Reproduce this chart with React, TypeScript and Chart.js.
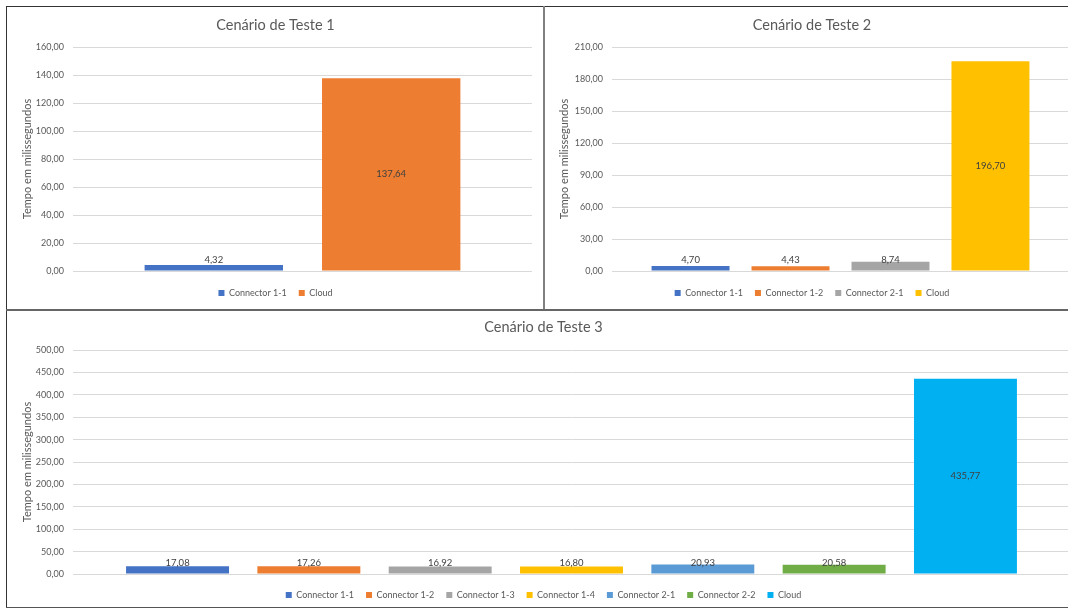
import React, { useEffect, useRef } from "react";
import { Chart, registerables } from "chart.js";

Chart.register(...registerables);

const FONT = "Lato, 'Open Sans', sans-serif";
const TEXT = "#595959";
const AXIS_TITLE = "Tempo em milissegundos";

// ---- Data ----
const chart1Title = "Cenário de Teste 1";
const chart1Series = ["Connector 1-1", "Cloud"];
const chart1Values = [4.32, 137.64];
const chart1Colors = ["#4472C4", "#ED7D31"];
const chart1YMax = 160;
const chart1YStep = 20;

const chart2Title = "Cenário de Teste 2";
const chart2Series = ["Connector 1-1", "Connector 1-2", "Connector 2-1", "Cloud"];
const chart2Values = [4.7, 4.43, 8.74, 196.7];
const chart2Colors = ["#4472C4", "#ED7D31", "#A5A5A5", "#FFC000"];
const chart2YMax = 210;
const chart2YStep = 30;

const chart3Title = "Cenário de Teste 3";
const chart3Series = [
  "Connector 1-1",
  "Connector 1-2",
  "Connector 1-3",
  "Connector 1-4",
  "Connector 2-1",
  "Connector 2-2",
  "Cloud",
];
const chart3Values = [17.08, 17.26, 16.92, 16.8, 20.93, 20.58, 435.77];
const chart3Colors = ["#4472C4", "#ED7D31", "#A5A5A5", "#FFC000", "#5B9BD5", "#70AD47", "#00B0F0"];
const chart3YMax = 500;
const chart3YStep = 50;

const fmt = (v: number) => Number(v).toFixed(2).replace(".", ",");

const valueLabels = {
  id: "valueLabels",
  afterDatasetsDraw(chart: any) {
    const ctx = chart.ctx;
    ctx.save();
    ctx.font = `9.5px ${FONT}`;
    ctx.fillStyle = "#404040";
    ctx.textAlign = "center";
    ctx.textBaseline = "middle";
    chart.data.datasets.forEach((ds: any, i: number) => {
      const meta = chart.getDatasetMeta(i);
      meta.data.forEach((el: any, j: number) => {
        const v = ds.data[j];
        if (v == null) return;
        const { x, y, base } = el.getProps(["x", "y", "base"], true);
        const cy = Math.min((y + base) / 2, base - 10.5);
        ctx.fillText(fmt(v), x, cy);
      });
    });
    ctx.restore();
  },
};

type Spec = {
  title: string;
  series: string[];
  values: number[];
  colors: string[];
  max: number;
  step: number;
  cat: number;
  bar: number;
  pL: number;
  pR: number;
  pB: number;
  t1: number;
  t2: number;
  legendPad: number;
  xH: number;
  yW: number;
  yPad: number;
};

function makeConfig(s: Spec): any {
  return {
    type: "bar",
    data: {
      labels: [""],
      datasets: s.series.map((name, i) => ({
        label: name,
        data: [s.values[i]],
        backgroundColor: s.colors[i],
        borderWidth: 0,
        categoryPercentage: s.cat,
        barPercentage: s.bar,
      })),
    },
    options: {
      responsive: false,
      animation: false,
      layout: { padding: { left: s.pL, right: s.pR, top: 0, bottom: s.pB } },
      plugins: {
        title: {
          display: true,
          text: s.title,
          color: TEXT,
          font: { family: FONT, size: 14.5, weight: "normal", lineHeight: 1.2 },
          padding: { top: s.t1, bottom: s.t2 },
        },
        legend: {
          position: "bottom",
          labels: {
            boxWidth: 6,
            boxHeight: 6,
            padding: s.legendPad,
            color: TEXT,
            font: { family: FONT, size: 9 },
          },
        },
        tooltip: { enabled: false },
      },
      scales: {
        x: {
          display: true,
          ticks: { display: false },
          grid: { display: false },
          border: { display: false },
          afterFit: (sc: any) => {
            sc.height = s.xH;
          },
        },
        y: {
          min: 0,
          max: s.max,
          ticks: {
            stepSize: s.step,
            padding: 9,
            color: TEXT,
            font: { family: FONT, size: 9 },
            callback: (v: any) => fmt(v),
          },
          grid: { color: "#D9D9D9", drawTicks: false },
          border: { display: false },
          title: {
            display: true,
            text: AXIS_TITLE,
            color: TEXT,
            font: { family: FONT, size: 11, lineHeight: 1.2 },
            padding: { top: s.yPad, bottom: 0 },
          },
          afterFit: (sc: any) => {
            sc.width = s.yW;
          },
        },
      },
    },
    plugins: [valueLabels],
  };
}

function ChartBox(props: { spec: Spec; left: number; top: number; width: number; height: number }) {
  const ref = useRef<HTMLCanvasElement | null>(null);
  useEffect(() => {
    if (!ref.current) return;
    const c = new Chart(ref.current, makeConfig(props.spec));
    return () => c.destroy();
  }, []);
  return (
    <canvas
      ref={ref}
      width={props.width}
      height={props.height}
      style={{
        position: "absolute",
        left: props.left,
        top: props.top,
        width: props.width,
        height: props.height,
      }}
    />
  );
}

const spec1: Spec = {
  title: chart1Title,
  series: chart1Series,
  values: chart1Values,
  colors: chart1Colors,
  max: chart1YMax,
  step: chart1YStep,
  cat: 0.773,
  bar: 0.78,
  pL: 12,
  pR: 11,
  pB: 1.5,
  t1: 9.3,
  t2: 13.3,
  legendPad: 12,
  xH: 5.5,
  yW: 54,
  yPad: 1.5,
};

const spec2: Spec = {
  title: chart2Title,
  series: chart2Series,
  values: chart2Values,
  colors: chart2Colors,
  max: chart2YMax,
  step: chart2YStep,
  cat: 0.875,
  bar: 0.78,
  pL: 10,
  pR: 11,
  pB: 1.5,
  t1: 9.3,
  t2: 13.3,
  legendPad: 12,
  xH: 5.5,
  yW: 57,
  yPad: 3,
};

const spec3: Spec = {
  title: chart3Title,
  series: chart3Series,
  values: chart3Values,
  colors: chart3Colors,
  max: chart3YMax,
  step: chart3YStep,
  cat: 0.922,
  bar: 0.784,
  pL: 10,
  pR: 11,
  pB: 1.5,
  t1: 7.3,
  t2: 14.3,
  legendPad: 12,
  xH: 4.5,
  yW: 56,
  yPad: 4,
};

export default function App() {
  const line = (style: React.CSSProperties) => (
    <div style={{ position: "absolute", ...style }} />
  );
  return (
    <div
      style={{
        position: "fixed",
        left: 0,
        top: 0,
        width: 1068,
        height: 609,
        overflow: "hidden",
        background: "#ffffff",
      }}
    >
      {line({ left: 6, top: 6, width: 1062, height: 1, background: "#333333" })}
      {line({ left: 6, top: 6, width: 1, height: 601, background: "#333333" })}
      {line({ left: 6, top: 607, width: 1062, height: 1, background: "#555555" })}
      {line({ left: 543, top: 6, width: 2, height: 304, background: "#808080" })}
      {line({ left: 6, top: 309, width: 1062, height: 2, background: "#666666" })}

      <ChartBox spec={spec1} left={7} top={7} width={536} height={302} />
      <ChartBox spec={spec2} left={545} top={7} width={535} height={302} />
      <ChartBox spec={spec3} left={7} top={311} width={1074} height={300} />
    </div>
  );
}
